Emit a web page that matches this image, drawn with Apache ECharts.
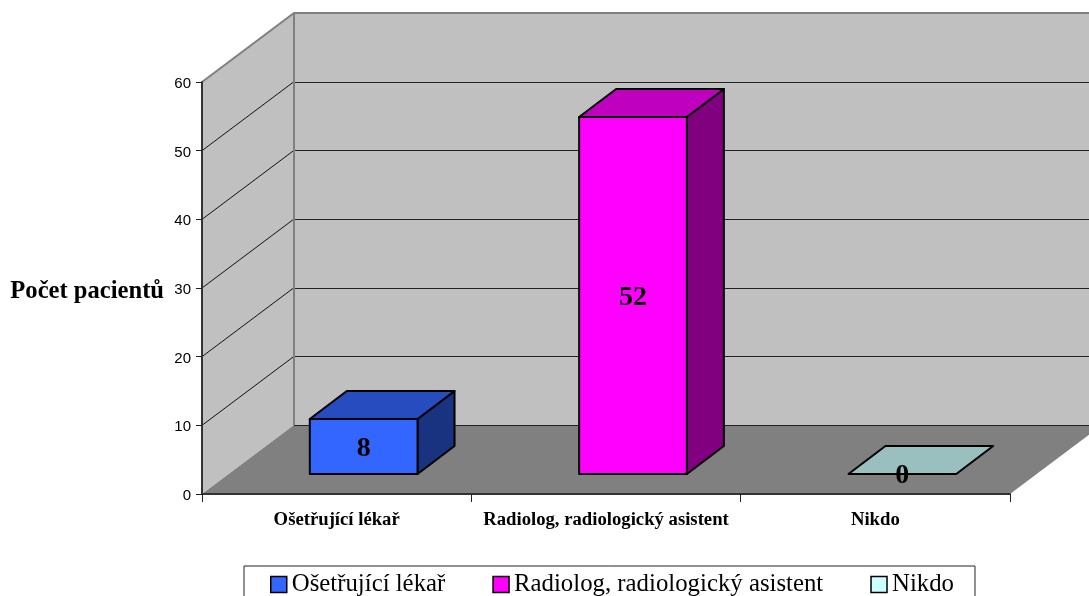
<!DOCTYPE html>
<html lang="cs">
<head>
<meta charset="utf-8">
<title>Počet pacientů</title>
<script src="https://cdn.jsdelivr.net/npm/echarts@6/dist/echarts.min.js"></script>
<style>
  html, body { margin: 0; padding: 0; background: #fff; overflow: hidden; }
  #chart { width: 1089px; height: 596px; }
</style>
</head>
<body>
<div id="chart"></div>
<script>
// Values
const categories = ['Ošetřující lékař', 'Radiolog, radiologický asistent', 'Nikdo'];
const patientCounts = [8, 52, 0];
const valueTicks = [0, 10, 20, 30, 40, 50, 60];
const yAxisTitle = 'Počet pacientů';

// Face colours of each column: front, top, side
const frontColors = ['#3366FF', '#FF00FF', '#CCFFFF'];
const topColors = ['#264CBF', '#BF00BF', '#99BFBF'];
const sideColors = ['#1A3380', '#800080', '#668080'];

// Oblique projection of the depth axis, in pixels
const ROOM_DEPTH = [92, -69];
const BAR_INSET = [27, -20];
const BAR_DEPTH = [37, -28];
const BAR_WIDTH_RATIO = 0.4;

const SERIF = '"Liberation Serif", "Times New Roman", serif';
const SANS = '"Liberation Sans", Arial, sans-serif';

const shift = (p, d) => [p[0] + d[0], p[1] + d[1]];

// Side wall, back wall, floor and the gridlines running across both walls
function renderRoom(params, api) {
  const band = api.size([1, 0])[0];
  const yAt = v => api.coord([0, v])[1];
  const left = api.coord([0, 0])[0] - band / 2;
  const right = api.coord([categories.length - 1, 0])[0] + band / 2;
  const lo = valueTicks[0];
  const hi = valueTicks[valueTicks.length - 1];
  const fl = [left, yAt(lo)], fr = [right, yAt(lo)];
  const tl = [left, yAt(hi)], tr = [right, yAt(hi)];
  const poly = (pts, fill) => ({
    type: 'polygon', shape: { points: pts }, style: { fill: fill, stroke: null }
  });
  const line = (pts, stroke, width) => ({
    type: 'polyline', shape: { points: pts },
    style: { fill: null, stroke: stroke, lineWidth: width }
  });
  const children = [
    poly([fl, tl, shift(tl, ROOM_DEPTH), shift(fl, ROOM_DEPTH)], '#C0C0C0'),
    poly([shift(fl, ROOM_DEPTH), shift(tl, ROOM_DEPTH), shift(tr, ROOM_DEPTH), shift(fr, ROOM_DEPTH)], '#C0C0C0'),
    poly([fl, fr, shift(fr, ROOM_DEPTH), shift(fl, ROOM_DEPTH)], '#808080')
  ];
  // Each gridline climbs the side wall, then runs along the back wall on a whole pixel row
  valueTicks.slice(1).forEach(v => {
    const a = [left, yAt(v)];
    const backY = Math.floor(yAt(v)) + 0.5;
    const backX = left + ROOM_DEPTH[0];
    children.push(line([[backX, backY], [right + ROOM_DEPTH[0], backY]], '#222', 1));
    if (v !== hi) {
      children.push(line([a, shift(a, ROOM_DEPTH)], '#111', 1));
    }
  });
  children.push(line([tl, shift(tl, ROOM_DEPTH), shift(tr, ROOM_DEPTH)], '#808080', 2));
  children.push(line([shift(tl, ROOM_DEPTH), shift(fl, ROOM_DEPTH)], '#808080', 2));
  return { type: 'group', silent: true, children: children };
}

// One oblique column with its value printed on the front face
function renderColumn(index) {
  return function (params, api) {
    const value = api.value(1);
    const center = api.coord([api.value(0), 0])[0];
    const width = api.size([1, 0])[0] * BAR_WIDTH_RATIO;
    const bottom = api.coord([api.value(0), 0])[1];
    const top = api.coord([api.value(0), value])[1];
    const x0 = center - width / 2 + BAR_INSET[0];
    const x1 = x0 + width;
    const y0 = bottom + BAR_INSET[1];
    const y1 = top + BAR_INSET[1];
    const a = [x0, y1], b = [x1, y1], c = [x1, y0], d = [x0, y0];
    const stroke = { stroke: '#000', lineWidth: 2, lineJoin: 'round' };
    const face = (pts, fill) => ({
      type: 'polygon', shape: { points: pts }, style: Object.assign({ fill: fill }, stroke)
    });
    const children = [];
    if (value > 0) {
      children.push(face([b, c, shift(c, BAR_DEPTH), shift(b, BAR_DEPTH)], sideColors[index]));
      children.push(face([a, b, c, d], frontColors[index]));
    }
    children.push(face([a, b, shift(b, BAR_DEPTH), shift(a, BAR_DEPTH)], topColors[index]));
    children.push({
      type: 'text',
      style: {
        text: String(value),
        x: (x0 + x1) / 2,
        y: (y0 + y1) / 2 + 2,
        align: 'center',
        verticalAlign: 'middle',
        font: 'bold 28px ' + SERIF,
        fill: '#000'
      },
      z2: 10
    });
    return { type: 'group', children: children };
  };
}

const columnSeries = categories.map((name, i) => ({
  name: name,
  type: 'custom',
  coordinateSystem: 'cartesian2d',
  clip: false,
  z: 3,
  encode: { x: 0, y: 1 },
  itemStyle: { color: frontColors[i] },
  renderItem: renderColumn(i),
  data: [[i, patientCounts[i]]]
}));

const chart = echarts.init(document.getElementById('chart'), null, { renderer: 'canvas' });
chart.setOption({
  animation: false,
  backgroundColor: '#fff',
  grid: { left: 202, right: 79, top: 82, bottom: 102, containLabel: false },
  legend: {
    left: 244,
    top: 566,
    orient: 'horizontal',
    padding: [6, 21, 3, 26],
    itemGap: 47,
    itemWidth: 16,
    itemHeight: 16,
    itemStyle: { borderColor: '#000', borderWidth: 1.5 },
    icon: 'rect',
    backgroundColor: '#fff',
    borderColor: '#222',
    borderWidth: 1,
    textStyle: { fontFamily: SERIF, fontSize: 24.8, color: '#000' },
    selectedMode: false,
    data: categories
  },
  xAxis: {
    type: 'category',
    data: categories,
    z: 5,
    axisLine: { lineStyle: { color: '#333', width: 2 } },
    axisTick: { show: true, length: 8, alignWithLabel: false, lineStyle: { color: '#222', width: 1 } },
    axisLabel: {
      margin: 17, interval: 0,
      fontFamily: SERIF, fontWeight: 'bold', fontSize: 18.7, color: '#000'
    }
  },
  yAxis: {
    type: 'value',
    min: valueTicks[0],
    max: valueTicks[valueTicks.length - 1],
    interval: 10,
    z: 5,
    name: yAxisTitle,
    nameLocation: 'middle',
    nameRotate: 0,
    nameGap: 38,
    nameTextStyle: {
      fontFamily: SERIF, fontWeight: 'bold', fontSize: 24.6, color: '#000',
      align: 'right', verticalAlign: 'top', lineHeight: 8
    },
    splitLine: { show: false },
    axisLine: { show: true, lineStyle: { color: '#333', width: 2 } },
    axisTick: { show: true, length: 6, lineStyle: { color: '#222', width: 1 } },
    axisLabel: {
      margin: 11, fontFamily: SANS, fontSize: 15, color: '#000',
      verticalAlign: 'top', lineHeight: 4
    }
  },
  series: [{
    name: 'Stěny',
    type: 'custom',
    coordinateSystem: 'cartesian2d',
    clip: false,
    silent: true,
    z: 1,
    encode: { x: 0, y: 1 },
    renderItem: renderRoom,
    data: [[0, 0]]
  }].concat(columnSeries)
});
</script>
</body>
</html>
